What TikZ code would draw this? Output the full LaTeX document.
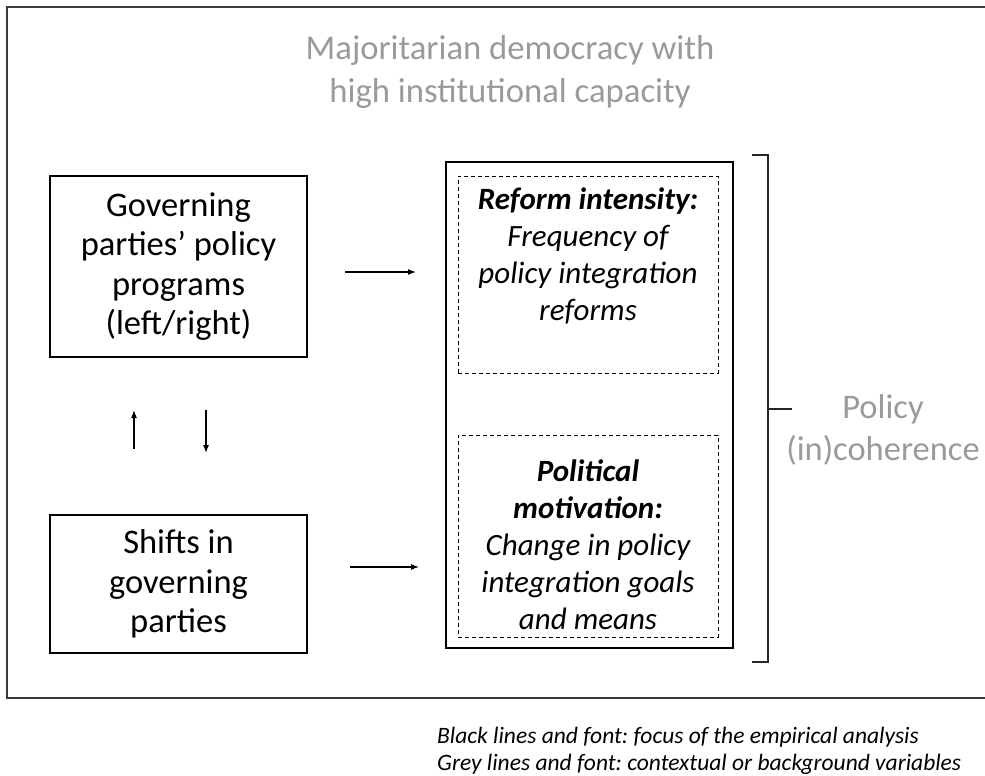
\documentclass[tikz,border=0pt]{standalone}
\usepackage{fontspec}
\setmainfont{Carlito}
\frenchspacing
\usetikzlibrary{arrows.meta,calc}
\definecolor{ctxgrey}{HTML}{9A9A9A}
\definecolor{framegrey}{HTML}{3A3A3A}
\tikzset{
  solidbox/.style={draw=black, line width=1.2pt, inner sep=0pt, align=center,
    font=\fontsize{34.5}{39.5}\selectfont},
  dashbox/.style={draw=black, dashed, dash pattern=on 4pt off 3pt, line width=1pt, inner sep=0pt},
  innertext/.style={align=center, inner sep=0pt, font=\fontsize{31}{37}\selectfont\itshape},
  greytext/.style={text=ctxgrey, align=center, inner sep=0pt},
  arr/.style={line width=1.1pt, -{Latex[length=8pt,width=6pt]}},
  brack/.style={line width=1.4pt, black!85},
}
\begin{document}
\begin{tikzpicture}[x=1pt,y=-1pt]
\useasboundingbox (0,0) rectangle (985,776);
% outer frame (open at right edge)
\draw[framegrey, line width=2pt] (990,7) -- (7,7) -- (7,698) -- (990,698);
% title
\node[greytext, font=\fontsize{34.7}{43}\selectfont] (title) at (510,72)
  {Majoritarian democracy with\\high institutional capacity};
% left boxes
\node[solidbox, minimum width=257pt, minimum height=181pt] (A) at (178.5,266.5)
  {Governing\\parties’ policy\\programs\\(left/right)};
\node[solidbox, minimum width=257pt, minimum height=138pt] (B) at (178.5,584)
  {Shifts in\\governing\\parties};
% middle box
\node[draw=black, line width=1.2pt, minimum width=287pt, minimum height=486pt, inner sep=0pt] (M) at (589.5,405) {};
\node[dashbox, minimum width=260pt, minimum height=197pt] (D1) at (588,274.5) {};
\node[dashbox, minimum width=260pt, minimum height=202pt] (D2) at (588,536) {};
\node[innertext] (T1) at (588,256)
  {\textbf{Reform intensity:}\\Frequency of\\policy integration\\reforms};
\node[innertext] (T2) at (588,545)
  {\textbf{Political}\\\textbf{motivation:}\\Change in policy\\integration goals\\and means};
% arrows
\coordinate (a1s) at (345,272); \coordinate (a1e) at (416,272);
\coordinate (a2s) at (350,567); \coordinate (a2e) at (419,567);
\coordinate (u1s) at (134,449); \coordinate (u1e) at (134,410);
\coordinate (d1s) at (206,410); \coordinate (d1e) at (206,453);
\draw[arr] (a1s) -- (a1e);
\draw[arr] (a2s) -- (a2e);
\draw[arr] (u1s) -- (u1e);
\draw[arr] (d1s) -- (d1e);
% bracket
\coordinate (bt) at (768,155); \coordinate (bb) at (768,662);
\coordinate (bm) at (768,409);
\draw[brack] ($(bt)+(-16,0)$) -- (bt) -- (bb) -- ($(bb)+(-16,0)$);
\draw[brack] (bm) -- ($(bm)+(24,0)$);
\node[greytext, font=\fontsize{34.5}{42}\selectfont] (P) at (883,430)
  {Policy\\(in)coherence};
% legend
\node[anchor=base west, align=left, inner sep=0pt, font=\fontsize{23.5}{27}\selectfont\itshape] (L) at (437,770)
  {Black lines and font: focus of the empirical analysis\\Grey lines and font: contextual or background variables};
\end{tikzpicture}
\end{document}
